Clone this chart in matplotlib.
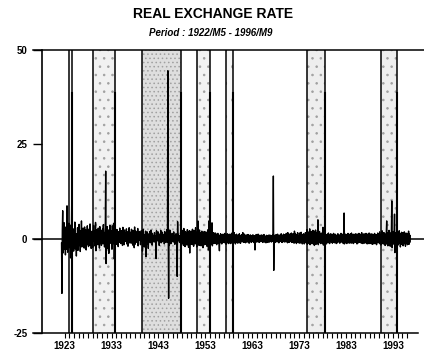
import numpy as np
import matplotlib.pyplot as plt

plt.rcParams['font.family'] = ['Liberation Sans', 'DejaVu Sans']
plt.rcParams['hatch.linewidth'] = 0.6

# monthly real exchange rate changes, 1922/M5 .. 1996/M9
rer = [
    -1.2, -14.5, 2.1, 7.4, -3.8, 1.6, -2.9, 4.2,
    -1.7, 3.1, -4.3, 1.2, 2.4, -2.8, 8.7, -0.9, -3.6, 1.5, -1.2, 4.1,
    -2.4, 0.8, 3.6, -5.1, 0.9, -1.5, 8.5, -10.2, 2.7, -0.4, 1.9, -3.3,
    2.6, -1.1, 4.4, -2.7, 0.2, 1.3, -4.6, 1.2, -0.8, 2.9, -3.1, 0.6,
    -1.9, 3.8, -0.3, 1.6, -3.4, 2.1, -1.4, 4.7, -2.2, 0.4, -1.7, 2.8,
    -0.6, 1.9, -2.5, 3.1, -1.2, 0.7, 2.3, -3.0, 1.1, -0.5, 3.4, -1.6,
    1.4, -2.1, 0.8, 2.6, -1.7, 3.9, -0.9, 1.3, -2.6, 0.1, 2.0, -1.4,
    -2.3, 1.2, 3.5, -0.6, 2.1, -1.9, 0.4, 4.3, -3.2, 1.0, -0.7, 2.4,
    0.9, -1.6, 2.8, -0.2, 1.7, -2.5, 3.2, -1.1, 0.5, 2.2, -1.8, 1.4,
    -0.8, 2.5, -1.4, 3.7, -0.1, 1.6, -2.2, 0.9, 2.8, 17.9, -6.6, 1.1,
    -2.7, 3.2, -1.5, 0.6, 2.3, -3.9, 1.8, -0.4, 3.6, -1.2, 2.1, -0.5,
    1.6, -2.8, 3.4, -0.7, 2.0, -1.3, 4.1, -5.4, 1.2, -0.3, 2.6, -1.1,
    0.8, -1.5, 2.4, -0.6, 1.7, -2.1, 0.3, 1.9, -1.0, 2.8, -0.4, 1.2,
    -1.3, 2.1, -0.5, 1.4, -1.8, 3.0, -0.2, 0.9, -1.6, 2.3, -0.8, 1.5,
    1.0, -0.7, 2.6, -1.4, 0.5, 1.8, -2.0, 1.2, -0.3, 2.9, -1.1, 0.6,
    -0.9, 1.7, -1.2, 2.5, -0.4, 1.1, -1.7, 2.2, -0.8, 1.4, -2.4, 3.1,
    -1.5, 0.8, 2.0, -0.6, 1.6, -1.0, 0.4, 2.7, -1.9, 0.7, -0.5, 1.9,
    -0.3, 1.4, -1.6, 0.9, 2.1, -0.7, 1.2, -3.3, -2.0, 2.5, -1.2, 1.0,
    -2.2, 1.1, -0.4, 2.0, -4.8, 0.6, -1.5, 1.8, -0.1, 1.3, -2.6, 0.9,
    1.2, -0.6, 1.9, -1.1, 0.4, 2.3, -0.8, 1.5, -1.7, 0.2, 1.0, -0.5,
    0.4, -0.9, 1.6, -0.3, 0.8, -1.2, -5.3, 2.1, 0.0, 1.4, -0.5, 1.8,
    -0.7, 1.3, -1.8, 0.6, 1.0, -0.4, 2.2, -1.1, 0.3, -0.8, 1.7, -0.2,
    1.1, -0.5, 0.7, -1.4, 1.9, -0.1, 0.6, -1.0, 1.5, -0.6, 2.4, -0.9,
    44.5, 1.6, -15.8, 0.9, -1.7, 2.3, -0.4, 1.2, -1.3, 0.5, -0.8, 1.4,
    -0.3, 1.0, -0.9, 1.8, -0.2, 0.6, -1.5, 0.9, 0.0, 1.3, -0.7, 0.4,
    -10.0, 4.5, -0.6, 1.1, -0.2, 0.8, -1.0, 0.3, -0.5, 1.6, -0.1, 0.7,
    -1.4, 2.2, -1.0, 1.5, -1.8, 2.7, -1.3, 1.1, -2.1, 1.9, -1.2, 1.6,
    1.2, -1.7, 2.4, -1.1, 1.8, -2.3, 1.0, 2.1, -3.8, 1.4, -1.3, 2.0,
    -1.5, 1.8, -1.2, 2.5, -1.6, 1.3, -2.0, 2.2, -1.1, 1.6, -1.4, 2.9,
    -1.2, 1.5, -2.2, 1.8, -1.0, 4.7, -1.5, 1.2, -1.8, 2.3, -1.3, 1.6,
    1.4, -1.9, 1.1, 2.0, -1.3, 1.6, -2.4, 1.5, -1.0, 1.9, -1.6, 1.2,
    -1.1, 1.8, -1.5, 1.3, -2.0, 1.7, -1.2, 2.4, -3.0, 4.7, -1.4, 1.5,
    -1.6, 1.2, -1.0, 1.7, -1.4, 4.2, -1.9, 1.1, -1.3, 1.6, -1.2, 1.4,
    1.0, -1.3, 1.5, -1.1, 0.9, -1.6, 1.2, -0.8, 1.4, -1.2, 0.8, -1.5,
    -3.2, 0.9, -1.1, 1.3, -0.7, 1.0, -1.4, 0.8, -0.9, 1.2, -1.0, 0.7,
    1.1, -0.8, 1.4, -1.2, 0.6, -1.5, 0.9, -1.1, 1.3, -0.7, 1.0, -1.3,
    -0.9, 1.2, -1.0, 0.8, -1.3, 1.1, -0.6, 1.4, -1.2, 0.7, -1.1, 0.9,
    0.8, -1.1, 1.6, -0.7, 1.0, -1.4, 0.9, -0.8, 1.2, -1.0, 0.6, -1.2,
    -0.7, 1.0, -0.9, 1.3, -1.1, 0.8, -1.2, 0.9, -0.6, 1.1, -0.8, 1.0,
    1.6, -0.9, 0.7, -1.0, 1.2, -0.8, 0.9, -1.1, 0.6, -0.7, 1.0, -0.9,
    -0.8, 1.1, -0.6, 0.9, -1.2, 0.7, -0.9, 1.0, -0.7, 0.8, -1.0, 0.6,
    0.9, -0.7, 1.0, -0.8, 0.6, -1.1, 0.8, -3.0, 0.7, -0.9, 1.1, -0.6,
    -0.9, 0.8, -0.7, 1.2, -0.8, 0.6, -1.0, 0.9, -0.5, 0.7, -0.8, 1.0,
    0.7, -0.6, 0.9, -1.0, 0.8, -0.7, 1.1, -0.9, 0.6, -0.8, 0.7, -1.1,
    -0.8, 0.9, -0.6, 0.7, -1.0, 0.8, -0.5, 1.0, -0.9, 0.6, -0.7, 0.9,
    0.6, -0.9, 0.8, -0.7, 1.0, -0.6, 16.6, -8.4, 0.9, -0.8, 0.7, -1.0,
    -0.7, 1.1, -0.8, 0.9, -0.6, 1.2, -0.9, 0.7, -1.1, 0.8, -0.5, 1.0,
    0.8, -0.7, 1.3, -0.9, 0.6, -1.0, 0.9, -0.8, 1.2, -0.6, 1.0, -0.9,
    -0.6, 1.0, -0.8, 1.4, -0.7, 0.9, -1.1, 1.6, -0.8, 0.7, -1.0, 1.2,
    0.9, -0.8, 1.2, -0.6, 1.5, -1.0, 0.8, -0.9, 1.3, -0.7, 1.1, -1.2,
    2.0, -0.9, 1.4, -0.8, 1.1, -1.3, 0.9, -0.7, 1.6, -1.0, 0.8, -1.1,
    -0.9, 1.5, -1.2, 0.8, -1.0, 1.7, -0.8, 1.1, -1.4, 0.9, -0.7, 1.3,
    1.1, -1.4, 0.9, -1.1, 1.6, -0.8, 1.3, -1.2, 2.4, -1.5, 1.0, -0.9,
    -1.2, 1.8, -1.0, 2.6, -1.6, 1.2, -0.8, 1.9, -1.3, 1.4, -1.1, 2.2,
    -1.4, 1.3, 2.0, -1.8, 1.1, -1.0, 2.3, -1.5, 1.0, -1.3, 1.7, -0.9,
    5.0, -1.6, 1.2, -1.1, 1.9, -0.8, 1.4, -1.3, 0.9, -1.0, 1.5, -1.2,
    1.3, 3.0, -1.7, 1.0, -1.2, 1.6, -0.9, 1.2, -1.1, 0.8, -1.4, 1.1,
    -1.0, 1.2, -0.8, 1.5, -1.1, 0.9, -1.3, 1.0, -0.7, 1.3, -0.9, 0.8,
    0.9, -1.2, 1.1, -0.8, 1.4, -1.0, 0.7, -1.1, 1.2, -0.9, 0.8, -1.3,
    -0.8, 1.0, -1.1, 1.3, -0.7, 1.1, -0.9, 0.8, -1.2, 1.0, -0.6, 1.4,
    1.0, -0.9, 1.2, -1.0, 0.8, -1.3, 1.1, 6.8, -1.4, 0.9, -1.0, 1.2,
    -1.1, 0.9, -1.3, 1.1, -0.8, 1.4, -1.0, 0.7, -1.2, 1.0, -0.9, 1.3,
    0.8, -1.2, 1.5, -0.9, 1.0, -1.1, 0.8, -1.3, 1.2, -0.7, 1.1, -1.0,
    -0.9, 1.3, -1.0, 0.9, -1.4, 1.2, -0.8, 1.0, -1.1, 1.4, -0.9, 0.8,
    1.2, -1.0, 0.9, -1.2, 1.6, -0.9, 1.1, -1.3, 0.8, -1.0, 1.3, -1.1,
    -1.2, 1.0, -0.9, 1.4, -1.1, 0.8, -1.4, 1.2, -1.0, 0.9, -1.3, 1.5,
    1.1, -1.3, 0.8, -1.0, 1.3, -1.2, 0.9, -1.5, 1.2, -0.8, 1.0, -1.4,
    -1.0, 1.4, -1.2, 0.9, -1.3, 1.1, -1.6, 1.0, -0.9, 1.5, -1.1, 1.2,
    1.3, -1.1, 1.8, -1.4, 1.0, -1.7, 1.2, -1.0, 2.1, -1.3, 1.5, -1.2,
    -1.4, 1.6, -1.0, 1.3, -1.8, 1.1, -1.2, 2.0, 4.7, -1.5, 1.4, -1.9,
    1.6, -1.3, 2.2, -1.7, 1.2, -2.0, 1.5, -1.1, 1.8, 10.0, -2.4, 1.3,
    -1.5, 1.9, -1.2, 1.4, 6.5, -3.7, 1.6, -1.4, 1.1, -1.8, 1.3, -1.6,
    1.2, -1.7, 1.5, -1.3, 2.1, -1.1, 1.4, -2.2, 1.0, -1.5, 1.7, -1.2,
    -1.3, 1.6, -1.9, 1.2, -1.4, 1.8, -1.0, 1.3, -2.0, 1.5, -1.2, 1.1,
    1.4, -1.6, 1.1, -1.3, 2.0, -1.5, 1.2, -1.0, 0.8,
]

# shaded periods (start, end, stipple density)
band_start = [1923.93, 1929.05, 1939.43, 1951.22, 1957.30, 1974.74, 1990.35]
band_end = [1924.57, 1933.74, 1947.81, 1953.99, 1958.90, 1978.51, 1993.76]
band_hatch = ['', '..', '....', '..', '.', '..', '..']
band_face = ['white', '#f1f1f1', '#dedede', '#f3f3f3', '#f7f7f7', '#eeeeee', '#eeeeee']

yticks = [50, 25, 0, -25]
year_ticks = list(range(1923, 1997))
year_labels = [str(y) if (y - 1923) % 10 == 0 else '' for y in year_ticks]

t = 1922 + (4 + np.arange(len(rer))) / 12.0

fig = plt.figure(figsize=(4.24, 3.56), dpi=100)
ax = fig.add_axes([42 / 424, 23 / 356, 376 / 424, 283 / 356])

for s, e, h, fc in zip(band_start, band_end, band_hatch, band_face):
    ax.axvspan(s, e, facecolor=fc, hatch=h, edgecolor='#a0a0a0', linewidth=0, zorder=1)
    ax.plot([s, s], [-25, 50], color='black', lw=1.1, zorder=2)
    ax.plot([e, e], [-25, 50], color='black', lw=1.1, zorder=2)
    ax.plot([e, e], [-25, 38.5], color='black', lw=1.5, zorder=2)

ytrans = ax.get_yaxis_transform()
for yv, right in [(50, 382 / 376), (0, 382 / 376), (-25, 1.0)]:
    ax.plot([-9 / 376, right], [yv, yv], color='black', lw=1.1,
            transform=ytrans, clip_on=False, zorder=3)

ax.plot(t, rer, color='black', lw=1.0, zorder=4)

ax.set_xlim(1918.17, 1998.34)
ax.set_ylim(-25, 50)
for side in ['top', 'right', 'bottom']:
    ax.spines[side].set_visible(False)
ax.spines['left'].set_linewidth(1.2)

ax.set_yticks(yticks)
ax.set_yticklabels([str(v) for v in yticks], fontsize=7, fontweight='bold')
ax.tick_params(axis='y', direction='out', length=6.5, width=1, pad=4)
ax.set_xticks(year_ticks)
ax.set_xticklabels(year_labels, fontsize=7, fontweight='bold')
ax.tick_params(axis='x', direction='out', length=3.5, width=0.8, pad=2)

fig.text(0.502, 0.961, 'REAL EXCHANGE RATE', ha='center', va='center',
         fontsize=10, fontweight='bold')
fig.text(0.498, 0.907, 'Period : 1922/M5 - 1996/M9', ha='center', va='center',
         fontsize=7, fontweight='bold', style='italic')

fig.savefig('out.png', dpi=100)
